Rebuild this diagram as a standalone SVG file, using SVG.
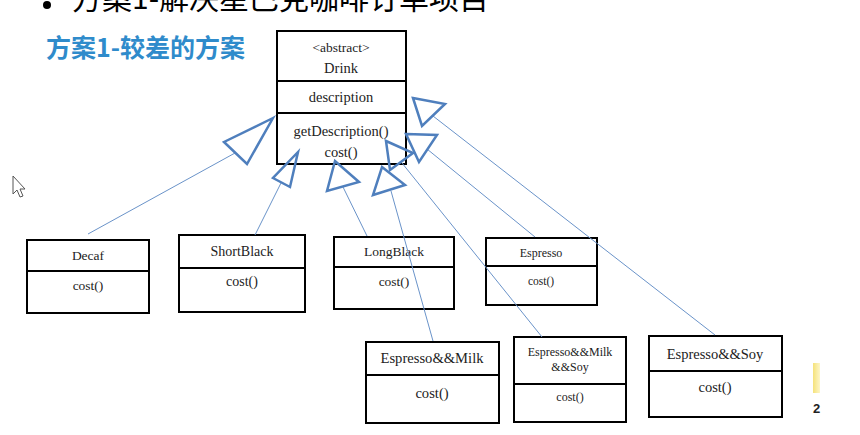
<svg xmlns="http://www.w3.org/2000/svg" width="860" height="435" viewBox="0 0 860 435">
<defs>
<linearGradient id="yel" x1="0" y1="0" x2="1" y2="0">
<stop offset="0" stop-color="#f5e27a"/>
<stop offset="1" stop-color="#fdf6c8"/>
</linearGradient>
</defs>
<style>
.box{fill:#fff;stroke:#000;stroke-width:2}
.div{stroke:#000;stroke-width:2}
.t{font-family:"Liberation Serif",serif;fill:#222;text-anchor:middle}
.ln{stroke:#6a93c9;stroke-width:1;fill:none}
.ah{stroke:#4f7fbd;stroke-width:2.5;fill:none;stroke-linejoin:miter}
</style>
<rect width="860" height="435" fill="#fff"/>
<g id="header">
<circle cx="47" cy="5" r="4" fill="#000"/>
<text x="72" y="9" font-family="Noto Sans CJK SC, sans-serif" font-size="30" fill="#000">方案1-解决星巴克咖啡订单项目</text>
<text x="46" y="57" font-family="Noto Sans CJK SC, sans-serif" font-size="25" font-weight="bold" fill="#2f8bcb">方案1-较差的方案</text>
</g>
<g id="cursor">
<path d="M13,176 L13,194 L17,190 L20,197 L23,196 L20,189 L25,189 Z" fill="#fff" stroke="#555" stroke-width="1"/>
</g>
<g id="corner">
<rect x="813" y="363" width="7" height="30" fill="url(#yel)"/>
<text x="813" y="413" font-family="Liberation Sans, sans-serif" font-size="13" font-weight="bold" fill="#222">2</text>
</g>
<g id="Drink">
<rect class="box" x="277" y="31" width="129" height="133"/>
<line class="div" x1="277" y1="81" x2="406" y2="81"/>
<line class="div" x1="277" y1="113" x2="406" y2="113"/>
<text class="t" x="341" y="52" font-size="13.5">&lt;abstract&gt;</text>
<text class="t" x="341" y="73" font-size="14.5">Drink</text>
<text class="t" x="341" y="102" font-size="14.5">description</text>
<text class="t" x="341" y="136" font-size="14.5">getDescription()</text>
<text class="t" x="341" y="157" font-size="14.5">cost()</text>
</g>
<g id="Decaf">
<rect class="box" x="27" y="240" width="122" height="73"/>
<line class="div" x1="27" y1="271" x2="149" y2="271"/>
<text class="t" x="88" y="260" font-size="13.5">Decaf</text>
<text class="t" x="88" y="290" font-size="13.5">cost()</text>
</g>
<g id="ShortBlack">
<rect class="box" x="179" y="235" width="126" height="77"/>
<line class="div" x1="179" y1="268" x2="305" y2="268"/>
<text class="t" x="242" y="256" font-size="14">ShortBlack</text>
<text class="t" x="242" y="286" font-size="14">cost()</text>
</g>
<g id="LongBlack">
<rect class="box" x="334" y="237" width="120" height="72"/>
<line class="div" x1="334" y1="267" x2="454" y2="267"/>
<text class="t" x="394" y="256" font-size="13.5">LongBlack</text>
<text class="t" x="394" y="286" font-size="13.5">cost()</text>
</g>
<g id="Espresso">
<rect class="box" x="486" y="238" width="111" height="67"/>
<line class="div" x1="486" y1="266" x2="597" y2="266"/>
<text class="t" x="541" y="257" font-size="12">Espresso</text>
<text class="t" x="541" y="285" font-size="11.5">cost()</text>
</g>
<g id="EspressoMilk">
<rect class="box" x="366" y="342" width="133" height="81"/>
<line class="div" x1="366" y1="375" x2="499" y2="375"/>
<text class="t" x="432" y="363" font-size="14.6">Espresso&amp;&amp;Milk</text>
<text class="t" x="432" y="398" font-size="14.6">cost()</text>
</g>
<g id="EspressoMilkSoy">
<rect class="box" x="514" y="337" width="112" height="85"/>
<line class="div" x1="514" y1="384" x2="626" y2="384"/>
<text class="t" x="570" y="356" font-size="12">Espresso&amp;&amp;Milk</text>
<text class="t" x="570" y="371" font-size="12">&amp;&amp;Soy</text>
<text class="t" x="570" y="401" font-size="12">cost()</text>
</g>
<g id="EspressoSoy">
<rect class="box" x="649" y="336" width="133" height="81"/>
<line class="div" x1="649" y1="371" x2="782" y2="371"/>
<text class="t" x="715" y="359" font-size="14.5">Espresso&amp;&amp;Soy</text>
<text class="t" x="715" y="392" font-size="14.5">cost()</text>
</g>
<g id="connectors">
<line class="ln" x1="88" y1="234" x2="235" y2="153"/>
<line class="ln" x1="255" y1="235" x2="281" y2="183"/>
<line class="ln" x1="367" y1="236" x2="343" y2="187"/>
<line class="ln" x1="433" y1="341" x2="391" y2="191"/>
<line class="ln" x1="542" y1="337" x2="402" y2="163"/>
<line class="ln" x1="535" y1="237" x2="427" y2="149"/>
<line class="ln" x1="715" y1="335" x2="433" y2="116"/>
<polygon class="ah" points="273,118 224,142 247,164"/>
<polygon class="ah" points="298,152 273,178 290,187"/>
<polygon class="ah" points="335,161 327,191 359,182"/>
<polygon class="ah" points="382,167 405,185 373,195"/>
<polygon class="ah" points="386,141 413,153 390,170"/>
<polygon class="ah" points="406,134 437,135 419,162"/>
<polygon class="ah" points="413,98 445,104 422,126"/>
</g>
</svg>
